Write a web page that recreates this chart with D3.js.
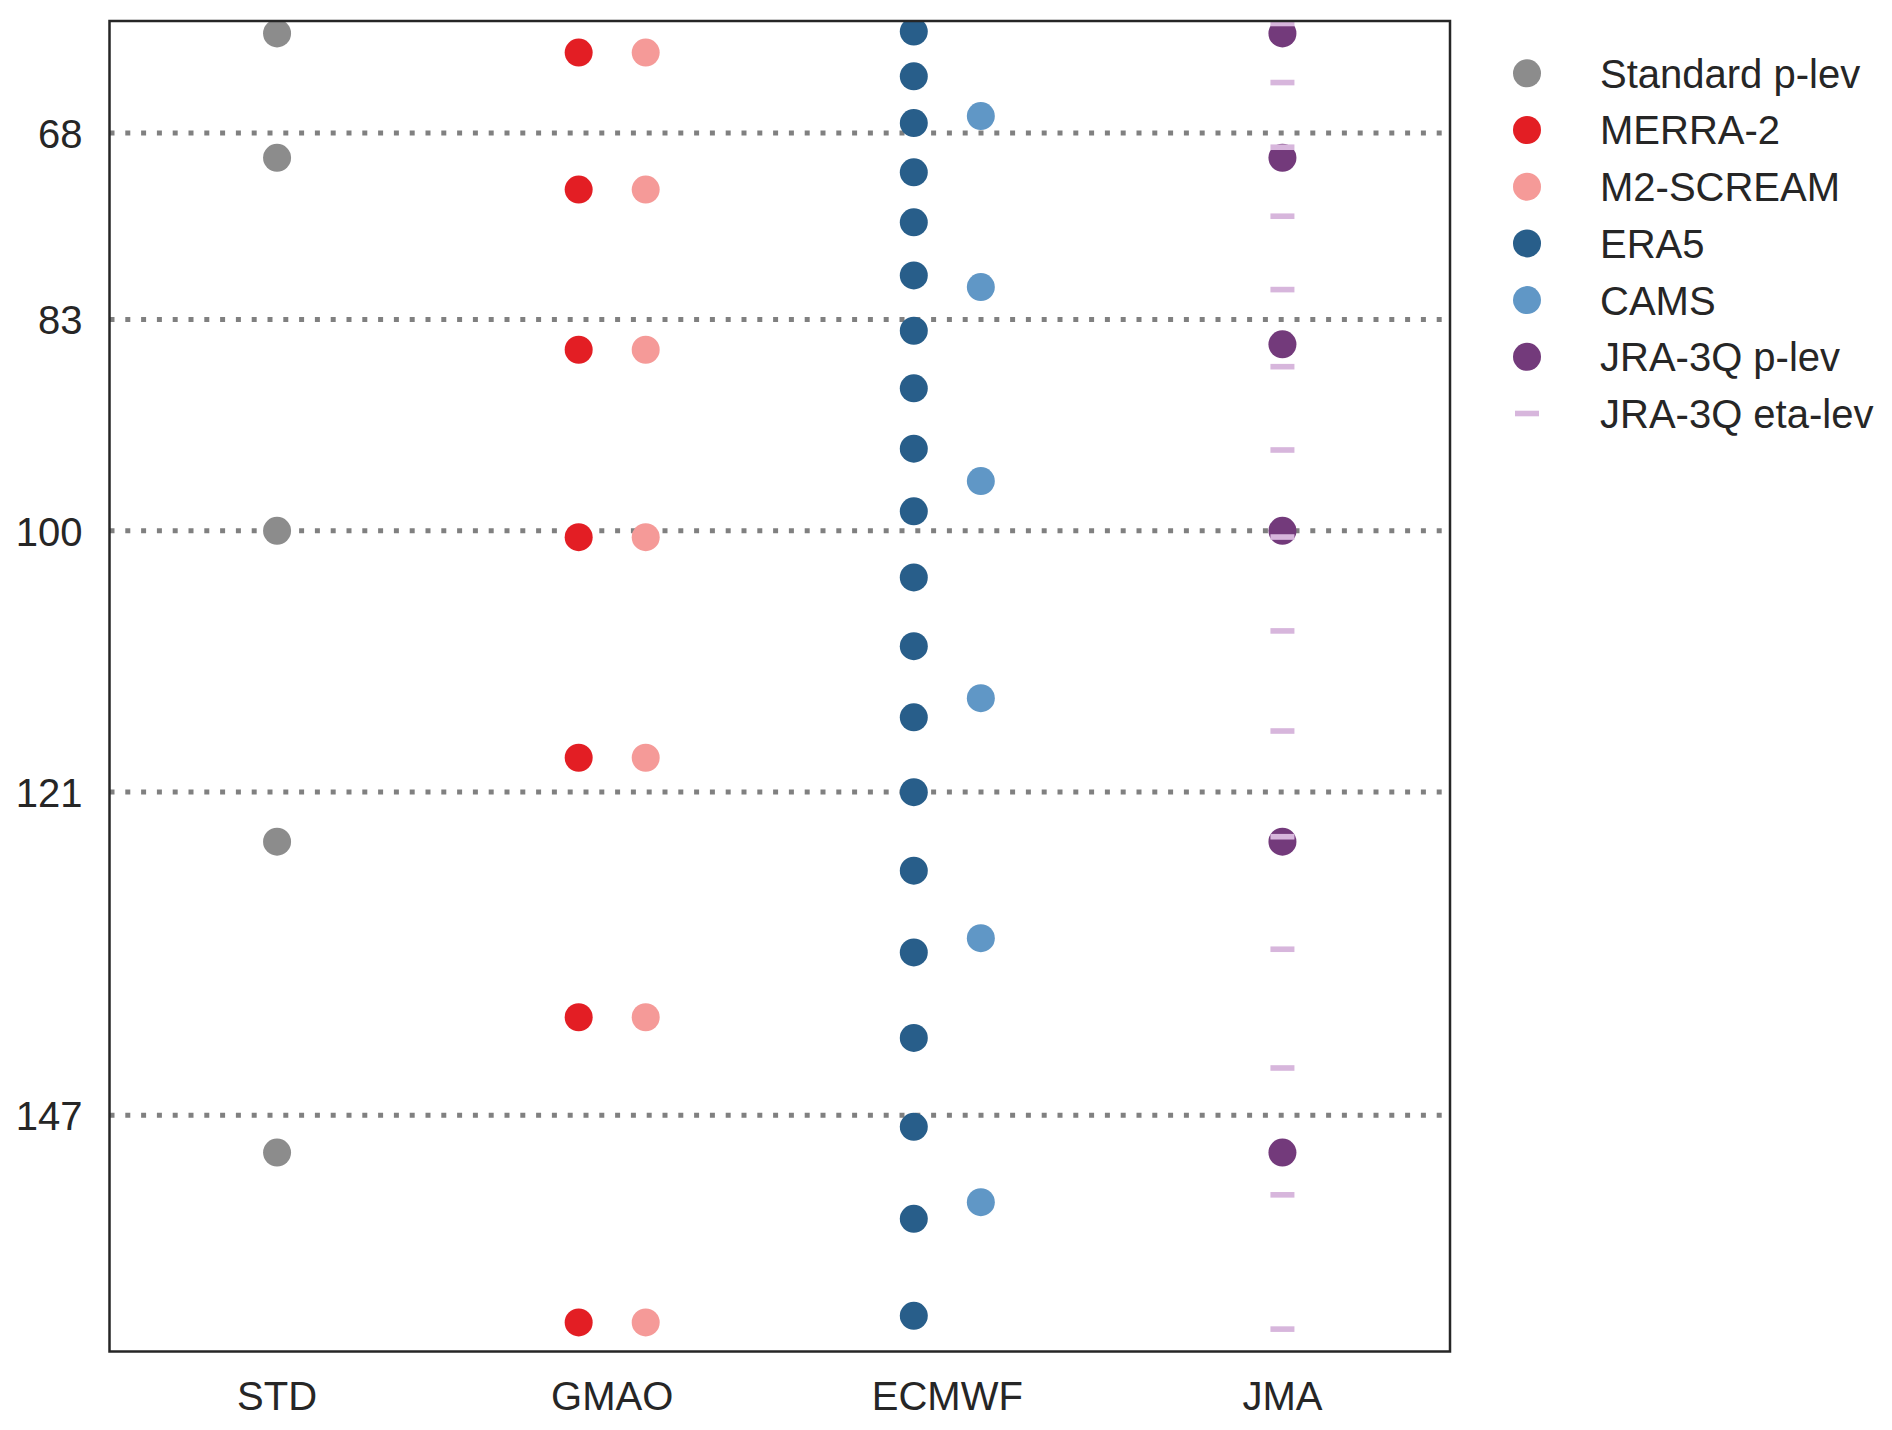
<!DOCTYPE html>
<html lang="en">
<head>
<meta charset="UTF-8">
<title>Model levels near the tropopause</title>
<script src="https://d3js.org/d3.v7.min.js"></script>
<style>
  body { margin: 0; background: #fff; }
  text { font-family: "Liberation Sans", Arial, sans-serif; fill: #262626; }
</style>
</head>
<body>
<div id="chart"></div>
<script>
// columns along the bottom
const centres = ["STD", "GMAO", "ECMWF", "JMA"];
// labelled pressure levels (hPa) with dotted lines
const yTicks = [68, 83, 100, 121, 147];

// pressure levels in hPa
const stdLevels = [60, 70, 100, 125, 150];
const merra2Levels = [61.54, 72.56, 85.44, 100.51, 118.25, 139.12, 163.66];
const m2screamLevels = [61.54, 72.56, 85.44, 100.51, 118.25, 139.12, 163.66];
const era5Levels = [59.85, 63.45, 67.21, 71.17, 75.19, 79.46, 83.91, 88.54, 93.39, 98.43,
                    103.75, 109.28, 115.0, 121.02, 127.33, 133.91, 140.78, 147.93, 155.33, 163.13];
const camsLevels = [66.65, 80.4, 96.0, 113.46, 132.76, 153.99];
const jraPLevels = [60, 70, 85, 100, 125, 150];
const jraEtaLevels = [59.2, 63.95, 69.15, 74.7, 80.6, 86.8, 93.5, 100.5, 108.05,
                      116.1, 124.6, 133.65, 143.2, 153.4, 164.2];

const seriesNames = ["Standard p-lev", "MERRA-2", "M2-SCREAM", "ERA5", "CAMS", "JRA-3Q p-lev", "JRA-3Q eta-lev"];
const seriesCentres = ["STD", "GMAO", "GMAO", "ECMWF", "ECMWF", "JMA", "JMA"];
const seriesLevels = [stdLevels, merra2Levels, m2screamLevels, era5Levels, camsLevels, jraPLevels, jraEtaLevels];

// styling
const colors = ["#8c8c8c", "#e31e24", "#f59a98", "#285e8a", "#6097c6", "#733a7b", "#d7b6dc"];
const dodge = [0, -0.1, 0.1, -0.1, 0.1, 0, 0];   // fraction of the column width
const isDash = [false, false, false, false, false, false, true];

const W = 1892, H = 1430;
const plotL = 109.5, plotR = 1450, plotT = 21, plotB = 1351.5;

let svg = d3.select("#chart").append("svg")
    .attr("width", W)
    .attr("height", H);

let x = d3.scaleBand().domain(centres).range([plotL, plotR]);
let y = d3.scaleLinear().domain([59, 166]).range([plotT, plotB]);

svg.append("clipPath").attr("id", "plotclip")
  .append("rect")
    .attr("x", plotL).attr("y", plotT)
    .attr("width", plotR - plotL).attr("height", plotB - plotT);

// dotted reference lines
svg.append("g").selectAll("line")
  .data(yTicks)
  .enter().append("line")
    .attr("x1", plotL)
    .attr("x2", plotR)
    .attr("y1", d => y(d))
    .attr("y2", d => y(d))
    .attr("stroke", "#808080")
    .attr("stroke-width", 5)
    .attr("stroke-dasharray", "5 10.8");

// the markers
let rows = seriesNames.map((name, i) => ({
    name: name,
    centre: seriesCentres[i],
    levels: seriesLevels[i],
    color: colors[i],
    dodge: dodge[i],
    dash: isDash[i]
}));

let plot = svg.append("g").attr("clip-path", "url(#plotclip)");

rows.forEach(function (s) {
    let cx = x(s.centre) + x.bandwidth() / 2 + s.dodge * x.bandwidth();
    let g = plot.append("g");
    if (s.dash) {
        g.selectAll("rect")
          .data(s.levels)
          .enter().append("rect")
            .attr("x", cx - 12)
            .attr("y", d => y(d) - 2.8)
            .attr("width", 24)
            .attr("height", 5.6)
            .attr("fill", s.color);
    } else {
        g.selectAll("circle")
          .data(s.levels)
          .enter().append("circle")
            .attr("cx", cx)
            .attr("cy", d => y(d))
            .attr("r", 14)
            .attr("fill", s.color);
    }
});

// axes
let yAxis = svg.append("g")
    .attr("transform", "translate(" + plotL + ",0)")
    .call(d3.axisLeft(y).tickValues(yTicks).tickSize(0).tickPadding(27));
yAxis.select(".domain").remove();
yAxis.selectAll("text")
    .attr("font-size", 40)
    .attr("dy", "0.36em");

let xAxis = svg.append("g")
    .attr("transform", "translate(0," + plotB + ")")
    .call(d3.axisBottom(x).tickSize(0).tickPadding(30));
xAxis.select(".domain").remove();
xAxis.selectAll("text")
    .attr("font-size", 40);
svg.selectAll(".tick text").attr("fill", "#262626").attr("font-family", "'Liberation Sans', Arial, sans-serif");

// frame
svg.append("rect")
    .attr("x", plotL)
    .attr("y", plotT)
    .attr("width", plotR - plotL)
    .attr("height", plotB - plotT)
    .attr("fill", "none")
    .attr("stroke", "#262626")
    .attr("stroke-width", 2.5);

// legend
let legend = svg.append("g").selectAll("g")
    .data(rows)
    .enter().append("g")
    .attr("transform", (d, i) => "translate(1527," + (73.3 + i * 56.7) + ")");

legend.each(function (d) {
    let g = d3.select(this);
    if (d.dash) {
        g.append("rect")
            .attr("x", -12).attr("y", -2.8)
            .attr("width", 24).attr("height", 5.6)
            .attr("fill", d.color);
    } else {
        g.append("circle").attr("r", 14).attr("fill", d.color);
    }
    g.append("text")
        .attr("x", 73)
        .attr("dy", "0.36em")
        .attr("font-size", 40)
        .text(d.name);
});
</script>
</body>
</html>
